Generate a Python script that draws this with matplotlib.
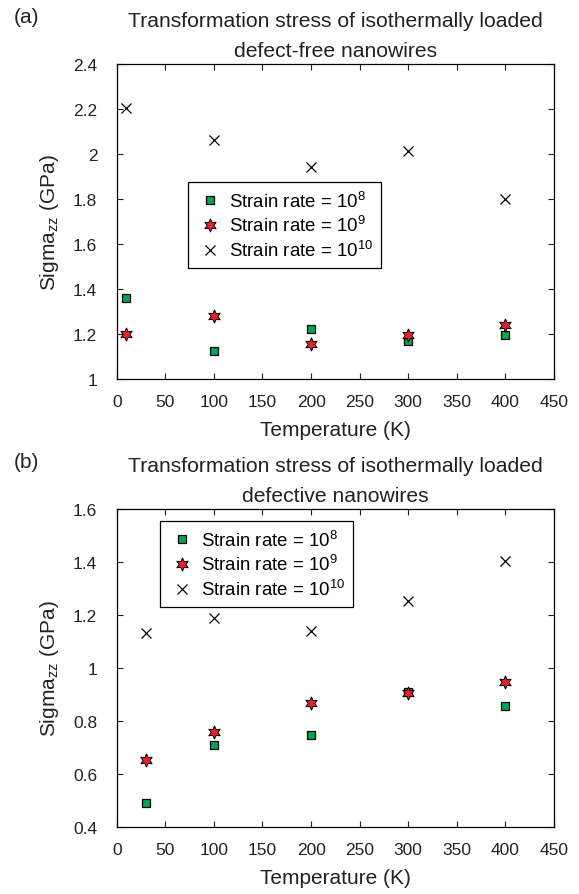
import matplotlib
matplotlib.use("Agg")
from matplotlib import pyplot as plt

plt.rcParams['font.family'] = ['Liberation Sans', 'DejaVu Sans']
plt.rcParams['mathtext.fontset'] = 'custom'
plt.rcParams['mathtext.rm'] = 'Liberation Sans'
plt.rcParams['mathtext.it'] = 'Liberation Sans:italic'

# panel (a): defect-free nanowires
temps_a = [10, 100, 200, 300, 400]
rate8_a = [1.36, 1.126, 1.222, 1.168, 1.195]
rate9_a = [1.20, 1.281, 1.156, 1.196, 1.24]
rate10_a = [2.205, 2.06, 1.941, 2.015, 1.80]

# panel (b): defective nanowires
temps_b = [30, 100, 200, 300, 400]
rate8_b = [0.49, 0.71, 0.748, 0.908, 0.855]
rate9_b = [0.652, 0.76, 0.868, 0.907, 0.948]
rate10_b = [1.132, 1.19, 1.14, 1.252, 1.405]

labels = ['Strain rate = 10$^{8}$', 'Strain rate = 10$^{9}$', 'Strain rate = 10$^{10}$']
green = '#00a651'
red = '#e8202a'
star6 = (6, 1, 0)
ink = '#222222'

fig = plt.figure(figsize=(5.79, 8.95), dpi=100)
ax_a = fig.add_axes([0.2016, 0.5754, 0.7552, 0.352])
ax_b = fig.add_axes([0.2016, 0.0749, 0.7552, 0.3553])


def draw(ax, temps, r8, r9, r10, ylim, yticks, ytl, title, leg_anchor):
    ax.plot(temps, r8, ls='none', marker='s', ms=6, mfc=green, mec='black', mew=0.9, label=labels[0])
    ax.plot(temps, r9, ls='none', marker=star6, ms=9.5, mfc=red, mec='black', mew=0.7, label=labels[1])
    ax.plot(temps, r10, ls='none', marker='x', ms=6.5, color='black', mew=0.9, label=labels[2])
    ax.set_xlim(0, 450)
    ax.set_ylim(*ylim)
    ax.set_xticks(range(0, 451, 50))
    ax.set_yticks(yticks)
    ax.set_yticklabels(ytl)
    ax.tick_params(direction='in', top=True, right=True, length=4, width=0.8,
                   labelsize=12.5, colors=ink)
    ax.tick_params(axis='x', pad=11)
    ax.tick_params(axis='y', pad=14)
    for sp in ax.spines.values():
        sp.set_linewidth(0.9)
    ax.set_xlabel('Temperature (K)', fontsize=15, color=ink, labelpad=8)
    ax.set_ylabel('Sigma$_{\\mathregular{zz}}$ (GPa)', fontsize=15, color=ink, labelpad=9)
    ax.set_title(title, fontsize=15.2, color=ink, pad=6, linespacing=1.7)
    leg = ax.legend(loc='upper left', bbox_to_anchor=leg_anchor, borderaxespad=0,
                    fontsize=13.4, fancybox=False, edgecolor='black', framealpha=1,
                    handlelength=1.46, handletextpad=0.29, borderpad=0.45, labelspacing=0.25)
    leg.get_frame().set_linewidth(0.9)


draw(ax_a, temps_a, rate8_a, rate9_a, rate10_a, (1.0, 2.4),
     [1.0, 1.2, 1.4, 1.6, 1.8, 2.0, 2.2, 2.4],
     ['1', '1.2', '1.4', '1.6', '1.8', '2', '2.2', '2.4'],
     'Transformation stress of isothermally loaded\ndefect-free nanowires', (0.163, 0.625))
draw(ax_b, temps_b, rate8_b, rate9_b, rate10_b, (0.4, 1.6),
     [0.4, 0.6, 0.8, 1.0, 1.2, 1.4, 1.6],
     ['0.4', '0.6', '0.8', '1', '1.2', '1.4', '1.6'],
     'Transformation stress of isothermally loaded\ndefective nanowires', (0.099, 0.962))

fig.text(0.024, 0.980, '(a)', fontsize=15, color=ink, va='center', ha='left')
fig.text(0.024, 0.483, '(b)', fontsize=15, color=ink, va='center', ha='left')

fig.savefig('out.png', dpi=100)
